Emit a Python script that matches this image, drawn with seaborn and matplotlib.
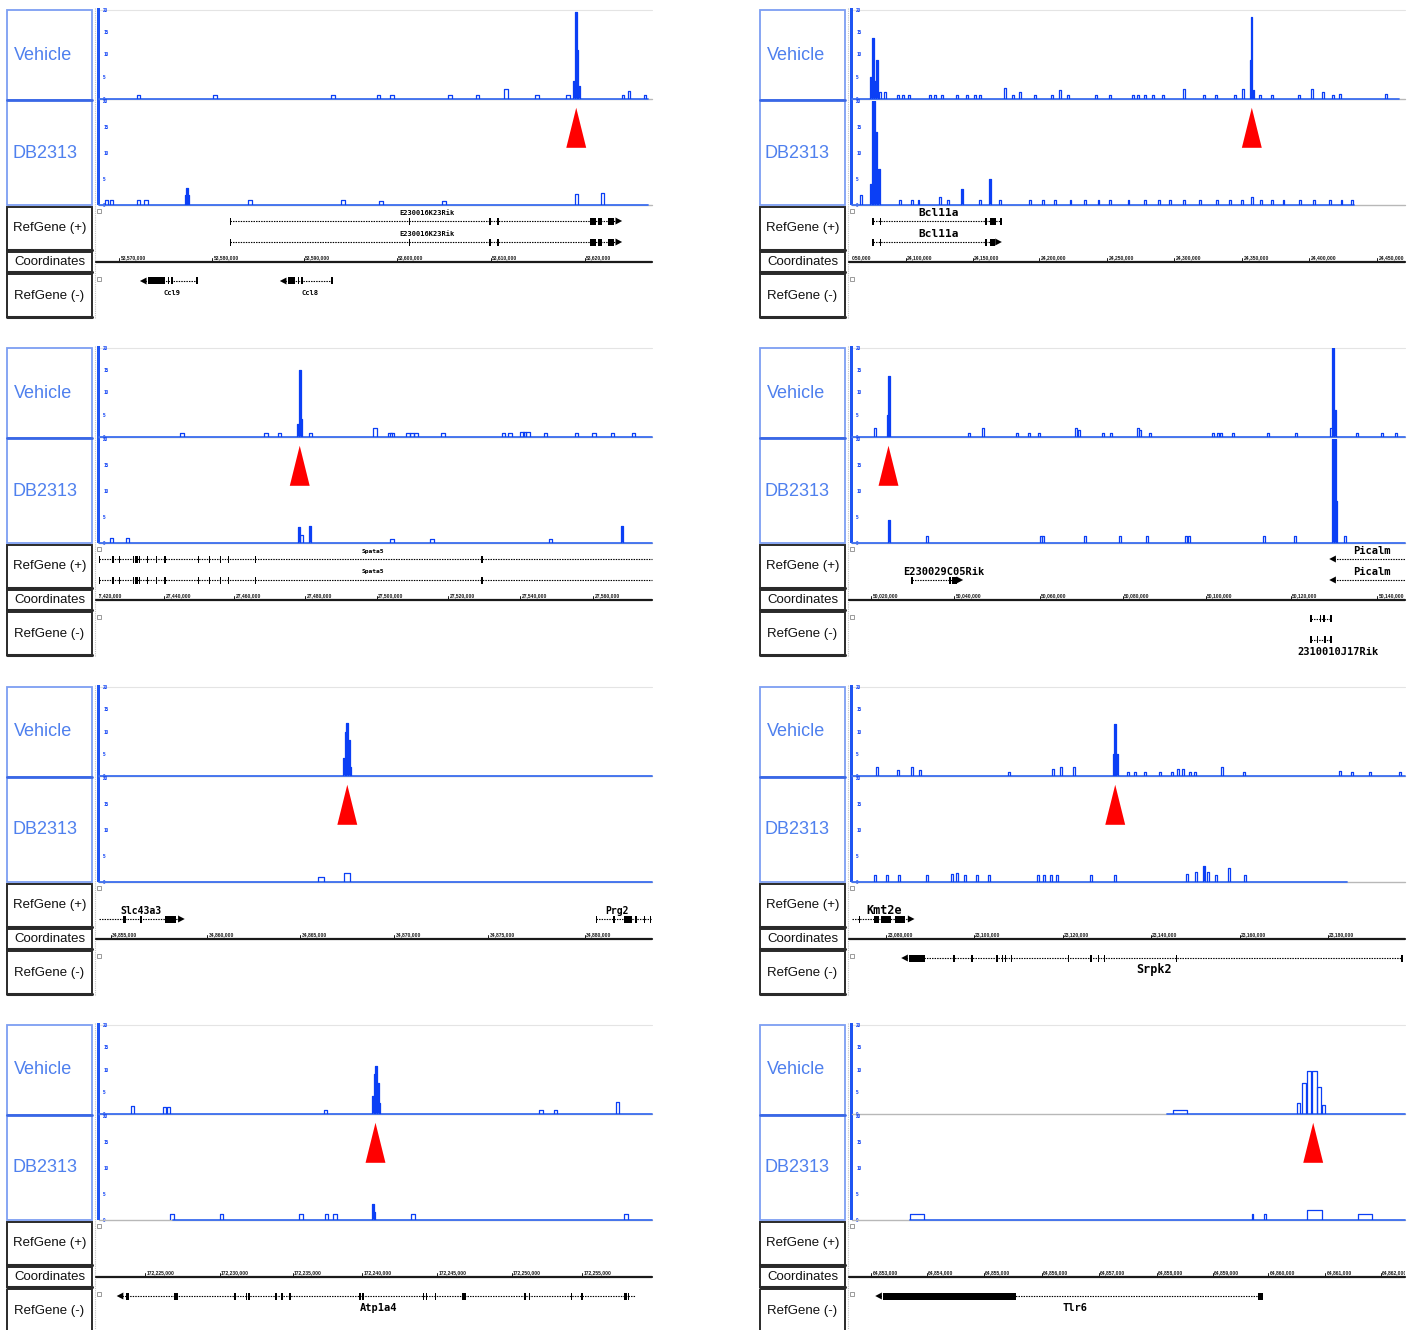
import numpy as np
import pandas as pd
import matplotlib
matplotlib.use('Agg')
import matplotlib.pyplot as plt
import seaborn as sns
from matplotlib.patches import Rectangle

# ---- signal peaks: (position in % of window, height 0-20, optional width) ----
ccl_veh = [(7.1,0.9),(21.0,0.9),(42.3,0.9),(50.5,0.9),(53.0,0.9),(63.5,0.9),(68.4,0.9),(73.6,2.2),(79.2,0.9),
           (84.8,0.9),(85.9,4,0.3),(86.2,19.5,0.3),(86.5,11,0.3),(86.8,3,0.3),(94.8,0.9,0.3),(95.8,1.8,0.3),(98.7,0.9,0.3)]
ccl_db = [(1.4,1),(2.2,1),(7.2,1),(8.5,1),(15.7,2,0.3),(15.9,3.3,0.3),(16.1,2,0.3),(27.3,1),(44.1,1),(51.0,0.8),
          (62.4,0.8),(86.3,2.2),(91.1,2.4)]

bcl_veh = [(3.4,5,0.3),(3.8,13.7,0.3),(4.2,4,0.3),(4.5,8.8,0.3),(5.1,1.5,0.3),(6.0,1.5,0.3),(8.3,1,0.3),(9.2,1,0.3),
           (10.3,1,0.3),(14.1,1,0.3),(15.0,1,0.3),(16.3,1,0.3),(19.0,1,0.3),(20.8,1,0.3),(22.2,1,0.3),(23.1,1,0.3),
           (27.7,2.5,0.3),(29.1,1,0.3),(30.4,1.5,0.3),(33.1,1,0.3),(36.2,1,0.3),(37.6,2,0.3),(39.1,1,0.3),(44.1,1,0.3),
           (46.7,1,0.3),(50.8,1,0.3),(51.7,1,0.3),(53.0,1,0.3),(54.4,1,0.3),(56.2,1,0.3),(60.0,2.3,0.3),(63.7,1,0.3),
           (65.8,1,0.3),(69.3,1,0.3),(70.7,2.3,0.3),(72.1,8.7,0.2),(72.3,18.5,0.2),(72.6,2,0.3),(73.8,1,0.3),
           (75.9,1,0.3),(80.8,1,0.3),(83.2,2.3,0.3),(85.2,1.5,0.3),(87.0,1,0.3),(88.2,1.2,0.3),(96.6,1.2,0.3)]
bcl_db = [(1.6,2,0.3),(3.4,4,0.3),(3.7,20,0.3),(4.0,20,0.3),(4.3,14,0.3),(4.9,7,0.3),(8.7,1,0.3),(10.8,1,0.3),
          (12.0,1,0.3),(15.9,1.5,0.3),(17.4,1,0.3),(19.9,3,0.3),(23.1,1,0.3),(25.0,5,0.3),(26.8,1,0.3),(32.2,1,0.3),
          (34.5,1,0.3),(36.7,1,0.3),(39.5,1,0.3),(42.1,1,0.3),(44.6,1,0.3),(46.7,1,0.3),(50.0,1,0.3),(53.0,1,0.3),
          (55.5,1,0.3),(57.5,1,0.3),(60.0,1,0.3),(62.9,1,0.3),(66.0,1,0.3),(68.4,1,0.3),(70.5,1,0.3),(72.3,1.5,0.3),
          (74.0,1,0.3),(75.9,1,0.3),(78.0,1,0.3),(81.0,1,0.3),(83.5,1,0.3),(86.4,1,0.3),(88.5,1,0.3),(90.4,1,0.3)]

spata5_veh = [(15.0,0.9),(30.2,0.9),(32.7,0.9),(36.0,3,0.3),(36.3,15,0.3),(36.6,4,0.3),(38.3,0.9),(49.9,2),(52.6,0.9),
              (53.0,0.9),(55.9,0.9),(56.6,0.9),(57.3,0.9),(62.2,0.9),(73.1,0.9),(74.3,0.9),(76.5,1.2),(77.0,1.2),
              (77.6,1.2),(80.7,0.9),(86.3,0.9),(89.5,0.9),(92.8,0.9),(96.6,0.9)]
spata5_db = [(2.2,1),(5.1,1),(36.1,3,0.4),(36.6,1.5,0.4),(38.2,3.3,0.4),(53.0,0.8),(60.2,0.8),(81.7,0.8),(94.6,3.3,0.4)]

picalm_veh = [(4.2,2,0.3),(6.5,5,0.3),(6.7,13.7,0.3),(21.2,1,0.3),(23.7,2,0.3),(29.8,1,0.3),(32.0,1,0.3),(33.8,1,0.3),
              (40.5,2,0.3),(41.0,1.5,0.3),(45.4,1,0.3),(46.8,1,0.3),(51.7,2,0.3),(52.1,1.5,0.3),(53.9,1,0.3),
              (65.3,1,0.3),(66.2,1,0.3),(66.7,1,0.3),(68.9,1,0.3),(75.2,1,0.3),(80.3,1,0.3),(86.6,2,0.3),
              (87.0,20,0.3),(87.3,6,0.3),(91.3,1,0.3),(95.8,1,0.3),(98.4,1,0.3)]
picalm_db = [(6.7,4.5,0.3),(13.6,1.3,0.3),(34.2,1.3,0.3),(34.5,1.3,0.3),(42.1,1.3,0.3),(48.5,1.3,0.3),(53.3,1.3,0.3),
             (60.4,1.3,0.3),(60.9,1.3,0.3),(74.5,1.3,0.3),(80.1,1.3,0.3),(87.0,20,0.3),(87.3,20,0.3),(87.6,8,0.3),
             (89.2,1.3,0.3)]

slc_veh = [(44.3,4,0.3),(44.6,10,0.3),(44.9,12,0.3),(45.2,8,0.3),(45.5,2,0.3)]
slc_db = [(40.1,1,1.1),(44.8,1.8,1.1)]

srpk2_veh = [(4.5,2,0.3),(8.3,1.3,0.3),(10.8,2,0.3),(12.3,1.3,0.3),(28.4,1,0.3),(36.3,1.5,0.3),(37.8,2,0.3),
             (40.1,2,0.3),(47.4,5,0.3),(47.6,11.7,0.3),(47.9,5,0.3),(49.9,1,0.3),(51.2,1,0.3),(53.0,1,0.3),
             (55.7,1,0.3),(57.9,1,0.3),(59.0,1.5,0.3),(59.9,1.5,0.3),(61.1,1,0.3),(62.0,1,0.3),(66.9,2,0.3),
             (70.9,1,0.3),(88.2,1.2,0.3),(90.4,1,0.3),(93.7,1,0.3),(99.1,1,0.3)]
srpk2_db = [(4.2,1.3,0.3),(6.3,1.3,0.3),(8.5,1.3,0.3),(13.6,1.3,0.3),(18.1,1.5,0.3),(19.0,1.8,0.3),(20.4,1.3,0.3),
            (22.6,1.3,0.3),(24.8,1.3,0.3),(33.6,1.3,0.3),(34.7,1.3,0.3),(36.0,1.3,0.3),(37.1,1.3,0.3),(43.2,1.3,0.3),
            (47.6,1.3,0.3),(60.6,1.5,0.3),(62.2,2,0.3),(63.7,3,0.3),(64.4,2,0.3),(65.8,1.3,0.3),(68.2,2.6,0.3),
            (71.1,1.3,0.3)]

atp_veh = [(6.1,1.8),(11.9,1.5),(12.6,1.5),(40.9,1),(49.5,4,0.3),(49.8,9,0.3),(50.1,10.8,0.3),(50.4,7,0.3),
           (50.7,2.5,0.3),(79.9,1),(82.6,1),(93.7,2.7)]
atp_db = [(13.2,1.2),(22.2,1.2),(36.5,1.2),(41.2,1.2),(42.7,1.2),(49.5,3,0.3),(49.8,1.5,0.3),(56.8,1.2),(95.3,1.2)]

tlr6_veh = [(59.3,1,2.5),(80.8,2.5,0.6),(81.7,7,0.8),(82.6,9.7,0.8),(83.6,9.7,1.0),(84.5,6,0.8),(85.3,2,0.6)]
tlr6_db = [(11.8,1.2,2.5),(72.4,1.2,0.3),(74.7,1.2,0.3),(83.7,2,2.7),(92.8,1.2,2.5)]

cover_veh = [(0,99.3),(0,99),(0,100),(0,100),(0,100),(0,100),(0,100),(57,100)]
cover_db = [(0,99.3),(0,90.8),(0,100),(0,100),(0,100),(0,89.5),(13.4,100),(10.5,100)]
arrow_pos = [86.3, 72.3, 36.3, 6.6, 44.9, 47.6, 50.0, 83.4]

# ---- gene models: (strand, row, start, end, exons, arrow, label, label x) ----
ccl_genes = [
    ('+', 0, 23.7, 93.7, [(23.6,23.8),(56.0,56.3),(70.6,70.9),(72.0,72.2),(88.8,89.9),(90.2,90.9),(92.0,93.2)], 'right', 'E230016K23Rik', 59.3),
    ('+', 1, 23.7, 93.7, [(23.6,23.8),(56.0,56.3),(70.6,70.9),(72.0,72.2),(88.8,89.9),(90.2,90.9),(92.0,93.2)], 'right', 'E230016K23Rik', 59.3),
    ('-', 0, 8.3, 17.7, [(8.9,11.9),(12.4,12.6),(13.1,13.3),(17.6,17.8)], 'left', 'Ccl9', 13.2),
    ('-', 0, 33.6, 42.1, [(34.2,35.4),(35.9,36.1),(36.6,36.8),(42.0,42.2)], 'left', 'Ccl8', 38.2),
]
bcl_genes = [
    ('+', 0, 3.8, 26.9, [(3.7,3.9),(5.0,5.2),(24.1,24.3),(25.0,26.0),(26.8,27.0)], None, 'Bcl11a', 15.6),
    ('+', 1, 3.8, 26.2, [(3.7,3.9),(5.0,5.2),(24.1,24.3),(25.0,25.8)], 'right', 'Bcl11a', 15.6),
]
spata5_exons = [(0,0.25),(2.4,2.65),(3.6,3.85),(6.1,6.35),(6.5,7.0),(7.2,7.45),(8.7,8.95),(10.3,10.55),(11.8,12.05),
                (17.9,18.15),(19.9,20.15),(21.9,22.15),(23.3,23.55),(28.2,28.45),(69.1,69.35)]
spata5_genes = [
    ('+', 0, 0, 100, spata5_exons, None, 'Spata5', 49.5),
    ('+', 1, 0, 100, spata5_exons, None, 'Spata5', 49.5),
]
picalm_genes = [
    ('+', 0, 87.2, 100, [], 'left', 'Picalm', 94.0),
    ('+', 1, 87.2, 100, [], 'left', 'Picalm', 94.0),
    ('+', 1, 10.8, 19.2, [(10.7,10.9),(17.6,17.8),(18.0,19.0)], 'right', 'E230029C05Rik', 16.6),
    ('-', 0, 83.0, 86.6, [(82.9,83.1),(84.6,84.8),(85.2,85.4),(86.5,86.7)], None, '', 0),
    ('-', 1, 83.0, 86.6, [(82.9,83.1),(84.0,84.2),(85.4,85.6),(86.5,86.7)], None, '2310010J17Rik', 87.9),
]
slc_genes = [
    ('+', 1, 0, 14.6, [(4.4,4.8),(7.5,7.8),(12.0,14.0)], 'right', 'Slc43a3', 7.6),
    ('+', 1, 89.9, 100, [(89.8,90.0),(93.0,93.3),(95.0,96.4),(96.9,97.2),(98.5,98.7),(99.6,99.8)], None, 'Prg2', 93.7),
]
srpk2_genes = [
    ('+', 1, 0, 10.4, [(1.2,1.4),(3.9,4.8),(5.3,7.1),(7.7,8.5),(8.5,9.6)], 'right', 'Kmt2e', 5.8),
    ('-', 0, 9.8, 99.4, [(10.3,13.2),(18.3,18.5),(21.6,21.8),(26.1,26.4),(27.1,27.3),(27.6,27.8),(28.7,28.9),
                          (39.0,39.2),(43.1,43.3),(44.4,44.6),(45.5,45.7),(58.5,58.7),(99.3,99.5)], 'left', 'Srpk2', 54.6),
]
atp_genes = [
    ('-', 0, 4.1, 96.9, [(4.9,5.4),(13.6,13.8),(14.0,14.2),(24.5,24.8),(26.5,26.8),(27.0,27.3),(31.9,32.2),(33.0,33.3),
                          (34.4,34.7),(47.1,47.4),(47.6,47.9),(58.5,58.8),(59.1,59.4),(60.7,61.0),(65.7,66.4),
                          (76.9,77.2),(77.7,78.0),(85.3,85.6),(87.2,87.6),(95.0,95.4),(95.6,95.9)], 'left', 'Atp1a4', 50.5),
]
tlr6_genes = [
    ('-', 0, 5.1, 74.4, [(5.6,29.7),(73.4,74.4)], 'left', 'Tlr6', 40.3),
]

# ---- coordinate ruler: tick positions (%) and labels ----
ccl_ticks = [3.7, 20.5, 37.1, 53.9, 70.8, 87.8]
ccl_labels = ['53,570,000', '53,580,000', '53,590,000', '53,600,000', '53,610,000', '53,620,000']
bcl_ticks = [-1.4, 9.8, 21.8, 33.9, 46.2, 58.3, 70.6, 82.7, 95.0]
bcl_labels = ['24,050,000', '24,100,000', '24,150,000', '24,200,000', '24,250,000', '24,300,000',
              '24,350,000', '24,400,000', '24,450,000']
spata5_ticks = [-0.5, 11.8, 24.5, 37.3, 50.3, 63.2, 76.2, 89.4]
spata5_labels = ['27,420,000', '27,440,000', '27,460,000', '27,480,000', '27,500,000', '27,520,000',
                 '27,540,000', '27,560,000']
picalm_ticks = [3.5, 18.5, 34.0, 49.0, 64.0, 79.4, 95.0]
picalm_labels = ['50,020,000', '50,040,000', '50,060,000', '50,080,000', '50,100,000', '50,120,000', '50,140,000']
slc_ticks = [2.2, 19.6, 36.4, 53.4, 70.4, 87.8]
slc_labels = ['34,855,000', '34,860,000', '34,865,000', '34,870,000', '34,875,000', '34,880,000']
srpk2_ticks = [6.2, 22.1, 38.2, 54.1, 70.2, 86.1]
srpk2_labels = ['23,080,000', '23,100,000', '23,120,000', '23,140,000', '23,160,000', '23,180,000']
atp_ticks = [8.4, 21.8, 35.0, 47.6, 61.2, 74.7, 87.4]
atp_labels = ['172,225,000', '172,230,000', '172,235,000', '172,240,000', '172,245,000', '172,250,000', '172,255,000']
tlr6_ticks = [3.5, 13.6, 23.9, 34.4, 44.7, 55.2, 65.2, 75.3, 85.6, 95.7]
tlr6_labels = ['64,853,000', '64,854,000', '64,855,000', '64,856,000', '64,857,000', '64,858,000',
               '64,859,000', '64,860,000', '64,861,000', '64,862,000']

gene_font = [5, 8, 4.5, 7.5, 7, 8.5, 7.5, 7.5]

panels = [
    (ccl_veh, ccl_db, ccl_genes, ccl_ticks, ccl_labels),
    (bcl_veh, bcl_db, bcl_genes, bcl_ticks, bcl_labels),
    (spata5_veh, spata5_db, spata5_genes, spata5_ticks, spata5_labels),
    (picalm_veh, picalm_db, picalm_genes, picalm_ticks, picalm_labels),
    (slc_veh, slc_db, slc_genes, slc_ticks, slc_labels),
    (srpk2_veh, srpk2_db, srpk2_genes, srpk2_ticks, srpk2_labels),
    (atp_veh, atp_db, atp_genes, atp_ticks, atp_labels),
    (tlr6_veh, tlr6_db, tlr6_genes, tlr6_ticks, tlr6_labels),
]

# ---- style ----
sns.set_style('white')
plt.rcParams['font.family'] = ['Liberation Sans', 'DejaVu Sans']

BLUE = '#0b3ff5'
BASE_BLUE = '#3d6ff0'
LABEL_BLUE = '#4f80ee'
BOX_BLUE = '#7d9ef2'
W, H = 1413, 1330
COL_X = [0, 753]
ROW_Y = [0, 338, 677, 1015]

fig = plt.figure(figsize=(W / 100, H / 100), dpi=100)
over = fig.add_axes([0, 0, 1, 1])
over.set_xlim(0, W)
over.set_ylim(H, 0)
over.axis('off')


def px_axes(x0, y0, x1, y1):
    ax = fig.add_axes([x0 / W, 1 - y1 / H, (x1 - x0) / W, (y1 - y0) / H])
    ax.patch.set_alpha(0)
    for s in ax.spines.values():
        s.set_visible(False)
    ax.set_xlim(0, 100)
    ax.set_xticks([])
    return ax


def draw_signal(ax, peaks, cover):
    rows = []
    for i, pk in enumerate(peaks):
        pos, h = pk[0], pk[1]
        w = pk[2] if len(pk) > 2 else 0.6
        xs = [pos - w / 2, pos - w / 2, pos + w / 2, pos + w / 2]
        ys = [0, h, h, 0]
        for x, y in zip(xs, ys):
            rows.append({'peak': i, 'x': x, 'y': y})
        if h >= 3 and w <= 0.4:
            ax.fill_between([pos - w / 2, pos + w / 2], 0, h, color=BLUE, lw=0)
    df = pd.DataFrame(rows)
    ax.plot([0, 100], [0, 0], color='#b8b8b8', lw=1, clip_on=False)
    ax.plot(list(cover), [0, 0], color=BASE_BLUE, lw=1.3, clip_on=False)
    sns.lineplot(data=df, x='x', y='y', units='peak', estimator=None, sort=False,
                 color=BLUE, lw=0.9, ax=ax, legend=False)
    ax.set_xlabel('')
    ax.set_ylabel('')
    ax.set_xlim(0, 100)
    ax.set_ylim(0, 20)
    ax.set_yticks([0, 5, 10, 15, 20])
    ax.set_yticklabels(['0', '5', '10', '15', '20'], fontsize=3.3, color=BLUE, fontweight='bold')
    ax.tick_params(axis='y', length=0, pad=-3)
    for lab in ax.get_yticklabels():
        lab.set_ha('left')


def draw_genes(ax_plus, ax_minus, genes, fsize):
    for strand, row, s, e, exons, arrow, label, lx in genes:
        if strand == '+':
            ax, y, ly = ax_plus, 14 + 21 * row, 6 + 21 * row
        else:
            ax, y, ly = ax_minus, 7 + 21 * row, 19 + 21 * row
        ax.plot([s, e], [y, y], color='k', lw=0.8, ls=(0, (1.3, 1.0)), clip_on=False)
        for a, b in exons:
            ax.add_patch(Rectangle((a, y - 3.5), max(b - a, 0.25), 7, color='k', lw=0))
        if arrow == 'right':
            ax.fill([e - 0.3, e + 0.9, e - 0.3], [y - 3.5, y, y + 3.5], color='k', lw=0)
        elif arrow == 'left':
            ax.fill([s + 0.3, s - 0.9, s + 0.3], [y - 3.5, y, y + 3.5], color='k', lw=0)
        if label:
            ax.text(lx, ly, label, fontsize=fsize, fontweight='bold', family='DejaVu Sans Mono',
                    ha='center', va='center', color='k')


def draw_coords(ax, ticks, labels):
    ax.plot([-0.5, 100], [10, 10], color='#1a1a1a', lw=1.6, clip_on=False)
    step = ticks[1] - ticks[0]
    for t in np.arange(ticks[0] - step, 100.5, step / 5):
        if 0 <= t <= 100:
            ax.plot([t, t], [8.5, 10], color='#1a1a1a', lw=0.5)
    for t, lab in zip(ticks, labels):
        if 0 <= t <= 100:
            ax.plot([t, t], [6, 10], color='#1a1a1a', lw=0.7)
        ax.text(t + 0.2, 6.0, lab, fontsize=3.6, fontweight='bold', ha='left', va='center',
                color='#1a1a1a', clip_on=True)


for i, (veh, db, genes, ticks, labels) in enumerate(panels):
    dx = COL_X[i % 2]
    dy = ROW_Y[i // 2]

    # left label boxes
    over.add_patch(Rectangle((7 + dx, 10 + dy), 85, 90, fill=False, ec=BOX_BLUE, lw=1.3))
    over.add_patch(Rectangle((7 + dx, 100 + dy), 85, 105, fill=False, ec=BOX_BLUE, lw=1.3))
    over.plot([7 + dx, 92 + dx], [100 + dy, 100 + dy], color='#3a68e6', lw=2)
    for y0, hh in [(207, 43), (252, 20), (274, 43)]:
        over.add_patch(Rectangle((7 + dx, y0 + dy), 85, hh, fill=False, ec='#2a2a2a', lw=1.4))
        over.plot([7 + dx, 92 + dx], [y0 + hh + dy, y0 + hh + dy], color='#2a2a2a', lw=2.2)
    over.text(14 + dx, 55 + dy, 'Vehicle', fontsize=13, color=LABEL_BLUE, va='center', ha='left')
    over.text(12 + dx, 153 + dy, 'DB2313', fontsize=13, color=LABEL_BLUE, va='center', ha='left')
    over.text(49.5 + dx, 228 + dy, 'RefGene (+)', fontsize=9.5, color='#111', va='center', ha='center')
    over.text(49.5 + dx, 262 + dy, 'Coordinates', fontsize=9.5, color='#111', va='center', ha='center')
    over.text(49.5 + dx, 296 + dy, 'RefGene (-)', fontsize=9.5, color='#111', va='center', ha='center')
    # divider, scale bar, track markers
    over.plot([95 + dx, 95 + dx], [8 + dy, 318 + dy], color='#c4c4c4', lw=0.8, ls=(0, (1, 1)))
    over.add_patch(Rectangle((96.5 + dx, 8 + dy), 3, 197, color='#1f55f2', lw=0))
    over.plot([100 + dx, 652 + dx], [10 + dy, 10 + dy], color='#e4e4e4', lw=0.8)
    for ym in (211, 279):
        over.add_patch(Rectangle((96.5 + dx, ym - 2 + dy), 4, 4, fill=False, ec='#8a8a8a', lw=0.6))

    # signal tracks
    ax_v = px_axes(99 + dx, 10 + dy, 652 + dx, 99 + dy)
    draw_signal(ax_v, veh, cover_veh[i])
    ax_d = px_axes(99 + dx, 101 + dy, 652 + dx, 205 + dy)
    draw_signal(ax_d, db, cover_db[i])
    p = arrow_pos[i]
    ax_d.fill([p - 1.8, p + 1.8, p], [11.0, 11.0, 18.7], color='#ff0000', lw=0, zorder=5)

    # gene and coordinate tracks
    ax_p = px_axes(99 + dx, 207 + dy, 652 + dx, 250 + dy)
    ax_p.set_ylim(43, 0)
    ax_p.set_yticks([])
    ax_c = px_axes(99 + dx, 252 + dy, 652 + dx, 272 + dy)
    ax_c.set_ylim(20, 0)
    ax_c.set_yticks([])
    ax_m = px_axes(99 + dx, 274 + dy, 652 + dx, 317 + dy)
    ax_m.set_ylim(43, 0)
    ax_m.set_yticks([])
    draw_genes(ax_p, ax_m, genes, gene_font[i])
    draw_coords(ax_c, ticks, labels)

fig.savefig('out.png', dpi=100)
